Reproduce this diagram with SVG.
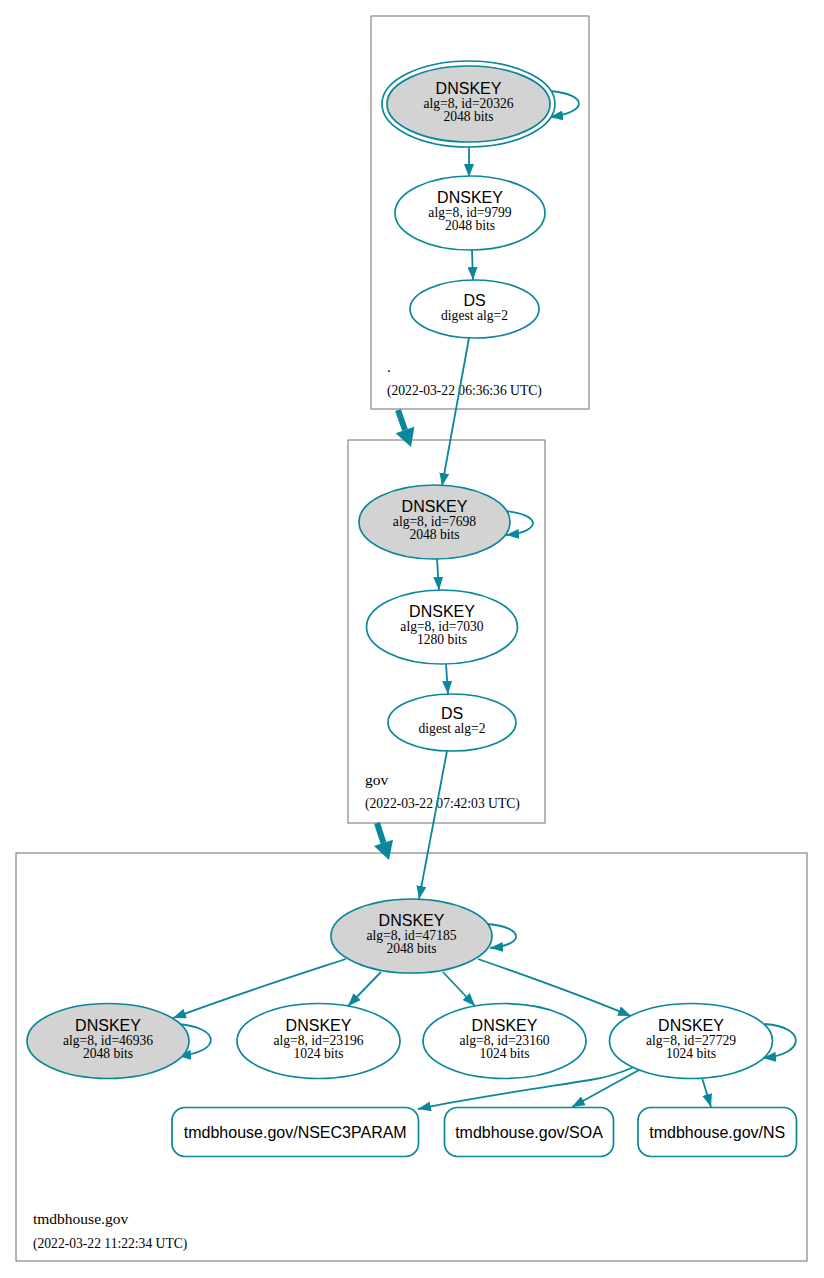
<svg xmlns="http://www.w3.org/2000/svg" width="824" height="1278" viewBox="0 0 824 1278">
<style>
.cl{fill:#fff;stroke:#6f6f6f;stroke-width:1}
.n{stroke:#0a879a;stroke-width:1.7;fill:#fff}
.g{fill:#d3d3d3}
.e{stroke:#0a879a;stroke-width:1.8;fill:none;marker-end:url(#ah)}
.t1{font-family:"Liberation Sans",Arial,sans-serif;font-size:16px;text-anchor:middle;fill:#000}
.t2{font-family:"Liberation Serif","Times New Roman",serif;font-size:13.6px;text-anchor:middle;fill:#000}
.cn{font-family:"Liberation Serif","Times New Roman",serif;font-size:15.5px;fill:#000}
.cd{font-family:"Liberation Serif","Times New Roman",serif;font-size:13.6px;fill:#000}
</style>
<defs>
<marker id="ah" viewBox="0 0 13 10" refX="13" refY="5" markerWidth="13" markerHeight="10" markerUnits="userSpaceOnUse" orient="auto"><path d="M0,0 L13,5 L0,10 z" fill="#0a879a"/></marker>
</defs>
<rect width="824" height="1278" fill="#fff"/>
<g id="clusters">
<g id="cluster-root"><rect class="cl" x="371" y="16" width="218" height="393"/><text class="cn" x="387" y="372">.</text><text class="cd" x="387" y="395">(2022-03-22 06:36:36 UTC)</text></g>
<g id="cluster-gov"><rect class="cl" x="348" y="440" width="197" height="383"/><text class="cn" x="365" y="785">gov</text><text class="cd" x="365" y="808">(2022-03-22 07:42:03 UTC)</text></g>
<g id="cluster-tmdb"><rect class="cl" x="16" y="853" width="791" height="408"/><text class="cn" x="33" y="1224">tmdbhouse.gov</text><text class="cd" x="33" y="1248">(2022-03-22 11:22:34 UTC)</text></g>
</g>
<g id="connectors">
<path class="e" d="M550,91 C587,94 590,112 550,117"/>
<path class="e" d="M469,147 L469,177"/>
<path class="e" d="M472,250 L473,280"/>
<path class="e" d="M469,338 L442,486"/>
<path class="e" d="M505,511 C541,514 543,532 506,535"/>
<path class="e" d="M437,559 L439,590"/>
<path class="e" d="M446,664 L448,694"/>
<path class="e" d="M447,751 L419,899"/>
<path class="e" d="M488,924 C524,927 526,945 490,948"/>
<path class="e" d="M346,959 C300,974 240,993 173,1018"/>
<path class="e" d="M381,972 L348,1006"/>
<path class="e" d="M443,972 L475,1006"/>
<path class="e" d="M478,959 C530,977 580,995 631,1016"/>
<path class="e" d="M177,1024 C221,1027 223,1052 178,1056"/>
<path class="e" d="M765,1024 C806,1027 807,1054 763,1058"/>
<path class="e" d="M634,1067 C620,1073 605,1078 590,1080 C540,1088 470,1098 418,1109"/>
<path class="e" d="M639,1070 L572,1107"/>
<path class="e" d="M702,1078 L711,1107"/>
<g id="delegations" fill="#0a879a" stroke="none">
<path d="M398,410 L405,430" stroke="#0a879a" stroke-width="6"/>
<polygon points="411,447 414.4,426.7 395.6,433.3"/>
<path d="M377,823 L383.5,843" stroke="#0a879a" stroke-width="6"/>
<polygon points="389,860 393,839.8 374,846"/>
</g>
</g>
<g id="k20326"><ellipse class="n" cx="468.5" cy="104" rx="86.5" ry="43"/><ellipse class="n g" cx="468.5" cy="104" rx="81.5" ry="38"/><text class="t1" x="468.5" y="94">DNSKEY</text><text class="t2" x="468.5" y="108">alg=8, id=20326</text><text class="t2" x="468.5" y="121">2048 bits</text></g>
<g id="k9799"><ellipse class="n" cx="470" cy="213" rx="75" ry="37"/><text class="t1" x="470" y="203">DNSKEY</text><text class="t2" x="470" y="217">alg=8, id=9799</text><text class="t2" x="470" y="230">2048 bits</text></g>
<g id="ds-root"><ellipse class="n" cx="474.5" cy="309" rx="64.5" ry="29"/><text class="t1" x="474.5" y="306">DS</text><text class="t2" x="474.5" y="320">digest alg=2</text></g>
<g id="k7698"><ellipse class="n g" cx="434.5" cy="522" rx="75.5" ry="37"/><text class="t1" x="434.5" y="512">DNSKEY</text><text class="t2" x="434.5" y="526">alg=8, id=7698</text><text class="t2" x="434.5" y="539">2048 bits</text></g>
<g id="k7030"><ellipse class="n" cx="442" cy="627" rx="75.5" ry="37"/><text class="t1" x="442" y="617">DNSKEY</text><text class="t2" x="442" y="631">alg=8, id=7030</text><text class="t2" x="442" y="644">1280 bits</text></g>
<g id="ds-gov"><ellipse class="n" cx="452" cy="722.5" rx="64" ry="28.5"/><text class="t1" x="452" y="719">DS</text><text class="t2" x="452" y="733">digest alg=2</text></g>
<g id="k47185"><ellipse class="n g" cx="411.5" cy="936" rx="80.5" ry="37"/><text class="t1" x="411.5" y="926">DNSKEY</text><text class="t2" x="411.5" y="940">alg=8, id=47185</text><text class="t2" x="411.5" y="953">2048 bits</text></g>
<g id="k46936"><ellipse class="n g" cx="108" cy="1041" rx="81" ry="37.5"/><text class="t1" x="108" y="1031">DNSKEY</text><text class="t2" x="108" y="1045">alg=8, id=46936</text><text class="t2" x="108" y="1058">2048 bits</text></g>
<g id="k23196"><ellipse class="n" cx="318.5" cy="1041" rx="81.5" ry="37.5"/><text class="t1" x="318.5" y="1031">DNSKEY</text><text class="t2" x="318.5" y="1045">alg=8, id=23196</text><text class="t2" x="318.5" y="1058">1024 bits</text></g>
<g id="k23160"><ellipse class="n" cx="504.5" cy="1041" rx="81.5" ry="37.5"/><text class="t1" x="504.5" y="1031">DNSKEY</text><text class="t2" x="504.5" y="1045">alg=8, id=23160</text><text class="t2" x="504.5" y="1058">1024 bits</text></g>
<g id="k27729"><ellipse class="n" cx="691" cy="1041" rx="81.5" ry="37.5"/><text class="t1" x="691" y="1031">DNSKEY</text><text class="t2" x="691" y="1045">alg=8, id=27729</text><text class="t2" x="691" y="1058">1024 bits</text></g>
<g id="rr-nsec3param"><rect class="n" x="172" y="1107.5" width="246.5" height="49" rx="13"/><text class="t1" x="295.25" y="1137.5">tmdbhouse.gov/NSEC3PARAM</text></g>
<g id="rr-soa"><rect class="n" x="444.5" y="1107.5" width="169" height="49" rx="13"/><text class="t1" x="529" y="1137.5">tmdbhouse.gov/SOA</text></g>
<g id="rr-ns"><rect class="n" x="638" y="1107.5" width="158.5" height="49" rx="13"/><text class="t1" x="717.25" y="1137.5">tmdbhouse.gov/NS</text></g>
</svg>
